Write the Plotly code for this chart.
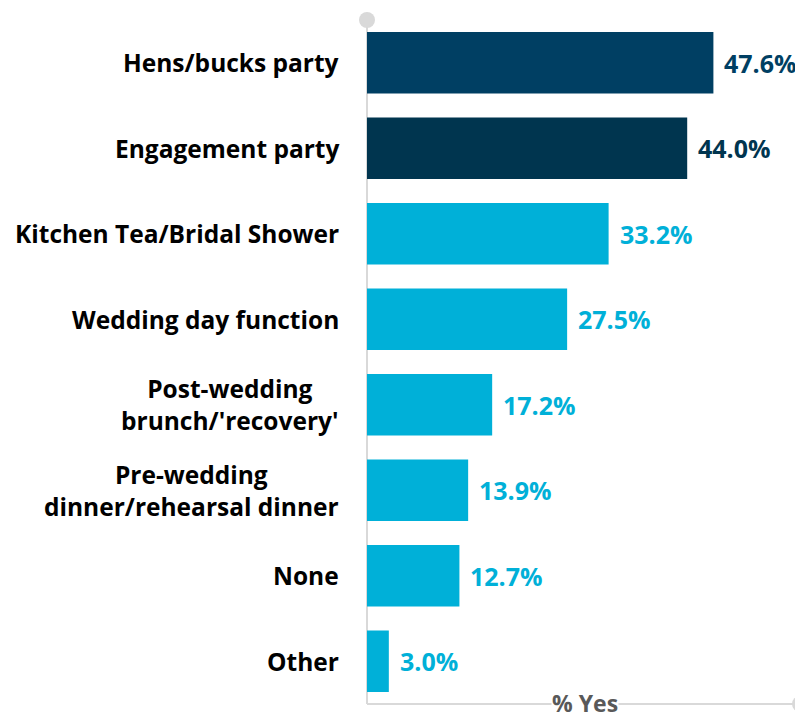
import plotly.graph_objects as go

categories = [
    "Hens/bucks party",
    "Engagement party",
    "Kitchen Tea/Bridal Shower",
    "Wedding day function",
    "Post-wedding<br>brunch/'recovery'",
    "Pre-wedding<br>dinner/rehearsal dinner",
    "None",
    "Other",
]
values = [47.6, 44.0, 33.2, 27.5, 17.2, 13.9, 12.7, 3.0]
bar_colors = ["#003f63", "#00354f"] + ["#00b0d8"] * 6
label_colors = ["#003f63", "#00354f"] + ["#00b0d8"] * 6

FONT = "Open Sans"
GREY = "#d9d9d9"

fig = go.Figure()
fig.add_trace(go.Bar(
    x=values, y=categories, orientation="h",
    marker=dict(color=bar_colors, line=dict(width=0)),
    hoverinfo="skip",
))

# category labels (centred multi-line, right aligned box)
for cat in categories:
    fig.add_annotation(
        x=0, y=cat, xref="x", yref="y", text=f"<b>{cat}</b>",
        showarrow=False, xanchor="right", align="center", xshift=-26,
        font=dict(family=FONT, size=24.5, color="#000000"),
    )

# value labels
for v, cat, c in zip(values, categories, label_colors):
    fig.add_annotation(
        x=v, y=cat, xref="x", yref="y", text=f"<b>{v:.1f}%</b>",
        showarrow=False, xanchor="left", xshift=9,
        font=dict(family=FONT, size=25, color=c),
    )

# axis decorations
fig.add_shape(type="line", xref="paper", yref="paper", x0=0, x1=0, y0=0, y1=1,
              line=dict(color=GREY, width=2), layer="below")
fig.add_shape(type="line", xref="paper", yref="paper", x0=0, x1=1, y0=0, y1=0,
              line=dict(color=GREY, width=2), layer="below")
fig.add_shape(type="circle", xref="paper", yref="paper", xsizemode="pixel", ysizemode="pixel",
              xanchor=0, yanchor=1, x0=-8, x1=8, y0=-8, y1=8,
              fillcolor=GREY, line=dict(width=0))
fig.add_shape(type="circle", xref="paper", yref="paper", xsizemode="pixel", ysizemode="pixel",
              xanchor=1, yanchor=0, x0=-8, x1=8, y0=-8, y1=8,
              fillcolor=GREY, line=dict(width=0))
fig.add_annotation(
    x=0.503, y=0, xref="paper", yref="paper", text="<b>% Yes</b>",
    showarrow=False, xanchor="center", yanchor="middle", yshift=1,
    bgcolor="white", borderpad=0,
    font=dict(family=FONT, size=23, color="#595959"),
)

# the page adds an 8px body margin, so offsets are reduced accordingly
fig.update_layout(
    width=803, height=720,
    margin=dict(l=359, r=11, t=12, b=24),
    paper_bgcolor="white", plot_bgcolor="white",
    showlegend=False, bargap=0.28,
    xaxis=dict(range=[0, 59.5], showgrid=False, zeroline=False,
               showticklabels=False, showline=False, fixedrange=True),
    yaxis=dict(autorange="reversed", showgrid=False, zeroline=False,
               showticklabels=False, showline=False, fixedrange=True),
)

fig.write_html("out.html")
